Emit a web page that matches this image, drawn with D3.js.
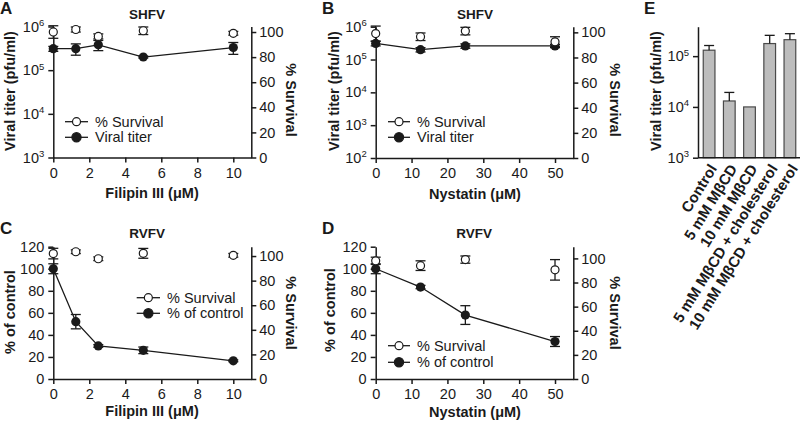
<!DOCTYPE html>
<html><head><meta charset="utf-8">
<script src="https://cdn.jsdelivr.net/npm/d3@7"></script>
<style>
body{margin:0;background:#fff;}
svg text{font-family:"Liberation Sans",Arial,sans-serif;fill:#1a1a1a;}
</style></head><body>
<svg id="c" width="800" height="423"></svg>
<script>
// ---------- data ----------
const filipinDoses = [0, 1.25, 2.5, 5, 10];
const nystatinDoses = [0, 12.5, 25, 50];
const filipinTicks = [0, 2, 4, 6, 8, 10];
const nystatinTicks = [0, 10, 20, 30, 40, 50];
const survivalTicks = [0, 20, 40, 60, 80, 100];
const percentTicks = [0, 20, 40, 60, 80, 100, 120];

const shfvFilipinTiter = [3.1e5, 3.1e5, 3.8e5, 2.0e5, 3.3e5];
const shfvFilipinTiterErr = [0.4e5, 0.9e5, 1.0e5, 0.1e5, 1.0e5];
const shfvFilipinSurvival = [100, 102, 96.5, 101, 99];
const shfvFilipinSurvivalErr = [5, 2, 2, 3, 1.5];

const shfvNystatinTiter = [3.1e5, 2.0e5, 2.6e5, 2.6e5];
const shfvNystatinTiterErr = [0.5e5, 0.3e5, 0.4e5, 0.3e5];
const shfvNystatinSurvival = [99, 96.5, 101, 92.5];
const shfvNystatinSurvivalErr = [6, 3, 3, 4];

const rvfvFilipinControl = [100, 52, 30, 26, 16.5];
const rvfvFilipinControlErr = [4.5, 6.5, 1.2, 3, 0.8];
const rvfvFilipinSurvival = [102, 103.5, 97.8, 102.2, 100.6];
const rvfvFilipinSurvivalErr = [4.3, 1.5, 1.5, 4, 1.5];

const rvfvNystatinControl = [100, 83.4, 58, 34];
const rvfvNystatinControlErr = [4.5, 1.5, 8.5, 4.5];
const rvfvNystatinSurvival = [98, 94, 99, 90.5];
const rvfvNystatinSurvivalErr = [3, 4, 3, 8.5];

const mbcdCategories = ["Control", "5 mM MβCD", "10 mM MβCD", "5 mM MβCD + cholesterol", "10 mM MβCD + cholesterol"];
const mbcdTiter = [1.31e5, 1.31e4, 1.0e4, 1.77e5, 2.11e5];
const mbcdTiterErr = [0.31e5, 0.62e4, 0, 0.8e5, 0.66e5];
const logTicks = [1e2, 1e3, 1e4, 1e5, 1e6];

// ---------- drawing ----------
const svg = d3.select("#c");
const INK = "#1a1a1a";
const TICKFS = 14.5;

function styleAxis(g) {
  g.attr("font-family", null).attr("font-size", null);
  g.selectAll("path,line").attr("stroke", INK).attr("stroke-width", 1.5);
  g.selectAll("text").attr("font-size", TICKFS).attr("fill", INK);
}
function supLabels(g) {
  g.selectAll(".tick text").each(function(d) {
    const t = d3.select(this);
    t.text("");
    t.append("tspan").text("10");
    t.append("tspan").attr("font-size", 9.5).attr("dy", "-0.6em").text(Math.round(Math.log10(d)));
  });
}
function label(txt, x, y, opt) {
  const o = Object.assign({size: 14, weight: "bold", anchor: "middle", rot: 0}, opt || {});
  svg.append("text").attr("transform", `translate(${x},${y}) rotate(${o.rot})`)
    .attr("text-anchor", o.anchor).attr("font-size", o.size).attr("font-weight", o.weight)
    .attr("dy", o.dy || 0).text(txt);
}

function panel(cfg) {
  const g = svg.append("g");
  const x = d3.scaleLinear().domain([0, cfg.xMax]).range([cfg.x0, cfg.x1]);
  const yL = (cfg.log ? d3.scaleLog() : d3.scaleLinear()).domain(cfg.yLDomain).range([cfg.yBottom, cfg.yTop]);
  const yR = d3.scaleLinear().domain([0, cfg.yRMax]).range([cfg.yBottom, cfg.yTop]);

  const ax = g.append("g").attr("transform", `translate(0,${cfg.yBottom})`)
    .call(d3.axisBottom(x).tickValues(cfg.xTicks).tickSize(5).tickSizeOuter(0).tickPadding(5).tickFormat(d3.format("d")));
  styleAxis(ax);
  const al = g.append("g").attr("transform", `translate(${cfg.x0},0)`)
    .call(d3.axisLeft(yL).tickValues(cfg.yLTicks).tickSize(5).tickSizeOuter(0).tickPadding(4).tickFormat(d3.format("d")));
  styleAxis(al);
  if (cfg.log) supLabels(al);
  const ar = g.append("g").attr("transform", `translate(${cfg.x1},0)`)
    .call(d3.axisRight(yR).tickValues(survivalTicks).tickSize(5).tickSizeOuter(0).tickPadding(3).tickFormat(d3.format("d")));
  styleAxis(ar);

  function errBars(vals, errs, scale) {
    const eg = g.append("g").attr("stroke", INK).attr("stroke-width", 1.3).attr("fill", "none");
    cfg.doses.forEach((d, i) => {
      const cx = x(d), hi = scale(vals[i] + errs[i]), lo = scale(Math.max(vals[i] - errs[i], scale.domain()[0]));
      eg.append("line").attr("x1", cx).attr("x2", cx).attr("y1", hi).attr("y2", lo);
      eg.append("line").attr("x1", cx - 5).attr("x2", cx + 5).attr("y1", hi).attr("y2", hi);
      eg.append("line").attr("x1", cx - 5).attr("x2", cx + 5).attr("y1", lo).attr("y2", lo);
    });
  }
  // filled series
  errBars(cfg.main, cfg.mainErr, yL);
  g.append("path").datum(cfg.doses.map((d, i) => [d, cfg.main[i]]))
    .attr("d", d3.line().x(p => x(p[0])).y(p => yL(p[1])))
    .attr("fill", "none").attr("stroke", INK).attr("stroke-width", 1.3);
  g.selectAll(null).data(cfg.doses).enter().append("circle")
    .attr("cx", d => x(d)).attr("cy", (d, i) => yL(cfg.main[i])).attr("r", 4.6).attr("fill", INK);
  // open series
  errBars(cfg.surv, cfg.survErr, yR);
  g.selectAll(null).data(cfg.doses).enter().append("circle")
    .attr("cx", d => x(d)).attr("cy", (d, i) => yR(cfg.surv[i])).attr("r", 4)
    .attr("fill", "#fff").attr("stroke", INK).attr("stroke-width", 1.2);

  // legend
  const lg = cfg.legend;
  [["% Survival", false], [cfg.mainName, true]].forEach((e, k) => {
    const yy = lg.y + k * lg.dy;
    g.append("line").attr("x1", lg.x0).attr("x2", lg.x1).attr("y1", yy).attr("y2", yy).attr("stroke", INK).attr("stroke-width", 1.3);
    g.append("circle").attr("cx", (lg.x0 + lg.x1) / 2).attr("cy", yy).attr("r", e[1] ? 4.6 : 4)
      .attr("fill", e[1] ? INK : "#fff").attr("stroke", INK).attr("stroke-width", 1.2);
    g.append("text").attr("x", lg.x1 + 7).attr("y", yy).attr("dy", "0.35em").attr("font-size", 14.5).text(e[0]);
  });

  label(cfg.title, cfg.titleX, cfg.titleY, {size: 13.5});
  label(cfg.letter, cfg.letterX, cfg.letterY, {size: 17, anchor: "start"});
  label(cfg.xTitle, cfg.xTitleX, cfg.xTitleY, {size: 14.5});
  label(cfg.yTitle, cfg.yTitleX, cfg.yTitleY, {size: 14.5, rot: -90});
  label("% Survival", cfg.rTitleX, cfg.rTitleY, {size: 14.5, rot: 90});
}

panel({letter: "A", letterX: 0, letterY: 14, title: "SHFV", titleX: 147, titleY: 19,
  doses: filipinDoses, xTicks: filipinTicks, xMax: 11, x0: 53.3, x1: 251.3,
  log: true, yLDomain: [1e3, 1e6], yLTicks: logTicks.slice(1), yBottom: 157.5, yTop: 26.5, yRMax: 104.4,
  main: shfvFilipinTiter, mainErr: shfvFilipinTiterErr, surv: shfvFilipinSurvival, survErr: shfvFilipinSurvivalErr,
  mainName: "Viral titer", legend: {x0: 65, x1: 88, y: 121.7, dy: 15.6},
  xTitle: "Filipin III (μM)", xTitleX: 152, xTitleY: 198, yTitle: "Viral titer (pfu/ml)", yTitleX: 15, yTitleY: 91,
  rTitleX: 286, rTitleY: 100});

panel({letter: "B", letterX: 322, letterY: 14, title: "SHFV", titleX: 475, titleY: 19,
  doses: nystatinDoses, xTicks: nystatinTicks, xMax: 55.1, x0: 375.7, x1: 573.3,
  log: true, yLDomain: [1e2, 1e6], yLTicks: logTicks, yBottom: 158, yTop: 26.7, yRMax: 104.5,
  main: shfvNystatinTiter, mainErr: shfvNystatinTiterErr, surv: shfvNystatinSurvival, survErr: shfvNystatinSurvivalErr,
  mainName: "Viral titer", legend: {x0: 388, x1: 410, y: 121.7, dy: 15.6},
  xTitle: "Nystatin (μM)", xTitleX: 475, xTitleY: 199, yTitle: "Viral titer (pfu/ml)", yTitleX: 339, yTitleY: 91,
  rTitleX: 610, rTitleY: 100});

panel({letter: "C", letterX: 0, letterY: 234, title: "RVFV", titleX: 147, titleY: 238,
  doses: filipinDoses, xTicks: filipinTicks, xMax: 11, x0: 53.3, x1: 251.3,
  log: false, yLDomain: [0, 120], yLTicks: percentTicks, yBottom: 379, yTop: 246.7, yRMax: 107.6,
  main: rvfvFilipinControl, mainErr: rvfvFilipinControlErr, surv: rvfvFilipinSurvival, survErr: rvfvFilipinSurvivalErr,
  mainName: "% of control", legend: {x0: 136.7, x1: 160, y: 297.7, dy: 15.6},
  xTitle: "Filipin III (μM)", xTitleX: 152, xTitleY: 416, yTitle: "% of control", yTitleX: 15, yTitleY: 312,
  rTitleX: 286, rTitleY: 313});

panel({letter: "D", letterX: 322, letterY: 234, title: "RVFV", titleX: 474, titleY: 238,
  doses: nystatinDoses, xTicks: nystatinTicks, xMax: 55.1, x0: 375.7, x1: 573.3,
  log: false, yLDomain: [0, 120], yLTicks: percentTicks, yBottom: 379, yTop: 246.7, yRMax: 109.7,
  main: rvfvNystatinControl, mainErr: rvfvNystatinControlErr, surv: rvfvNystatinSurvival, survErr: rvfvNystatinSurvivalErr,
  mainName: "% of control", legend: {x0: 388, x1: 410, y: 345.7, dy: 16.6},
  xTitle: "Nystatin (μM)", xTitleX: 475, xTitleY: 417, yTitle: "% of control", yTitleX: 335, yTitleY: 310,
  rTitleX: 610, rTitleY: 313});

// ---------- panel E ----------
(function() {
  const g = svg.append("g");
  const x0 = 698, yB = 157.7, yT = 26.7;
  const x = d3.scaleBand().domain(mbcdCategories).range([699, 800]).paddingInner(0.42).paddingOuter(0.21);
  const y = d3.scaleLog().domain([1e3, Math.pow(10, 5.58)]).range([yB, yT]);
  g.selectAll(null).data(mbcdCategories).enter().append("rect")
    .attr("x", d => x(d)).attr("width", x.bandwidth())
    .attr("y", (d, i) => y(mbcdTiter[i])).attr("height", (d, i) => yB - y(mbcdTiter[i]))
    .attr("fill", "#bdbdbd").attr("stroke", "#4a4a4a").attr("stroke-width", 1.2);
  const eg = g.append("g").attr("stroke", INK).attr("stroke-width", 1.3);
  mbcdCategories.forEach((c, i) => {
    if (!mbcdTiterErr[i]) return;
    const cx = x(c) + x.bandwidth() / 2, top = y(mbcdTiter[i] + mbcdTiterErr[i]);
    eg.append("line").attr("x1", cx).attr("x2", cx).attr("y1", y(mbcdTiter[i])).attr("y2", top);
    eg.append("line").attr("x1", cx - 5).attr("x2", cx + 5).attr("y1", top).attr("y2", top);
  });
  const al = g.append("g").attr("transform", `translate(${x0},0)`)
    .call(d3.axisLeft(y).tickValues([1e3, 1e4, 1e5]).tickSize(5).tickSizeOuter(0).tickPadding(4).tickFormat(d3.format("d")));
  styleAxis(al); supLabels(al);
  const ab = g.append("g").attr("transform", `translate(0,${yB})`);
  ab.append("line").attr("x1", x0).attr("x2", 800).attr("stroke", INK).attr("stroke-width", 1.5);
  mbcdCategories.forEach(c => {
    const cx = x(c) + x.bandwidth() / 2;
    g.append("text").attr("transform", `translate(${cx + 4},${yB + 8}) rotate(-58)`)
      .attr("text-anchor", "end").attr("dy", "0.35em").attr("font-size", 15).attr("font-weight", "bold").text(c);
  });
  label("E", 644, 14, {size: 17, anchor: "start"});
  label("Viral titer (pfu/ml)", 661, 91, {size: 14.5, rot: -90});
})();
</script>
</body></html>
